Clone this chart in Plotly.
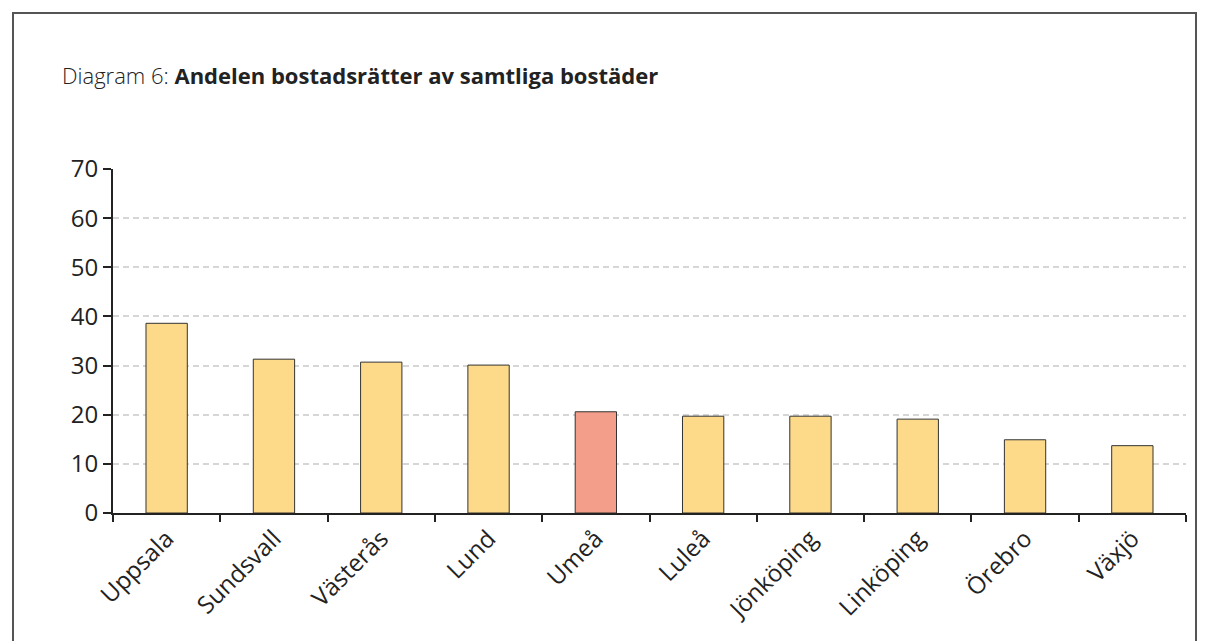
import plotly.graph_objects as go

cities = ["Uppsala", "Sundsvall", "Västerås", "Lund", "Umeå", "Luleå",
          "Jönköping", "Linköping", "Örebro", "Växjö"]
values = [38.6, 31.3, 30.7, 30.1, 20.6, 19.7, 19.7, 19.1, 14.9, 13.7]
highlight = "Umeå"
y_ticks = [0, 10, 20, 30, 40, 50, 60, 70]

yellow = "#FDDA8A"
salmon = "#F29E8A"
colors = [salmon if c == highlight else yellow for c in cities]

W, H = 1209, 641
OFF = 8  # page body margin
L, R, T, B = 113 - OFF, 1186 - OFF, 169 - OFF, 513 - OFF
pw, ph = R - L, B - T

fig = go.Figure()
fig.add_trace(go.Bar(
    x=cities, y=values,
    marker=dict(color=colors, line=dict(color="#333333", width=1)),
    width=0.385,
    hoverinfo="x+y",
))

font_family = "Open Sans, sans-serif"
fig.update_layout(
    width=W, height=H,
    margin=dict(l=L, r=W - R, t=T, b=H - B, pad=0),
    paper_bgcolor="white", plot_bgcolor="white",
    showlegend=False,
    font=dict(family=font_family, color="#222222"),
    xaxis=dict(
        showgrid=False, showline=True, linecolor="#222222", linewidth=2,
        ticks="outside", tickson="boundaries", ticklen=7, tickwidth=2,
        tickcolor="#222222", tickangle=-45,
        tickfont=dict(size=24, color="#222222"),
        zeroline=False,
    ),
    yaxis=dict(
        range=[0, 70], tickvals=y_ticks,
        showgrid=True, gridcolor="#D6D6D6", griddash="6px,4px", gridwidth=1.5,
        showline=True, linecolor="#222222", linewidth=2,
        ticks="outside", ticklen=8, tickwidth=2, tickcolor="#222222",
        tickfont=dict(size=24, color="#222222"),
        zeroline=False,
    ),
)

# outer frame
fig.add_shape(type="rect", xref="paper", yref="paper",
              x0=(13 - OFF - L) / pw, x1=(1196 - OFF - L) / pw,
              y0=(B - 700) / ph, y1=(B - (13 - OFF)) / ph,
              line=dict(color="#555555", width=2), fillcolor="rgba(0,0,0,0)",
              layer="below")

fig.add_annotation(
    xref="paper", yref="paper",
    x=(60 - OFF - L) / pw, y=(B - (75 - OFF)) / ph,
    xanchor="left", yanchor="middle", showarrow=False,
    text="<span style='font-weight:300'>Diagram 6:</span> <b>Andelen bostadsrätter av samtliga bostäder</b>",
    font=dict(size=22, color="#222222", family=font_family),
)

fig.write_html("out.html")
